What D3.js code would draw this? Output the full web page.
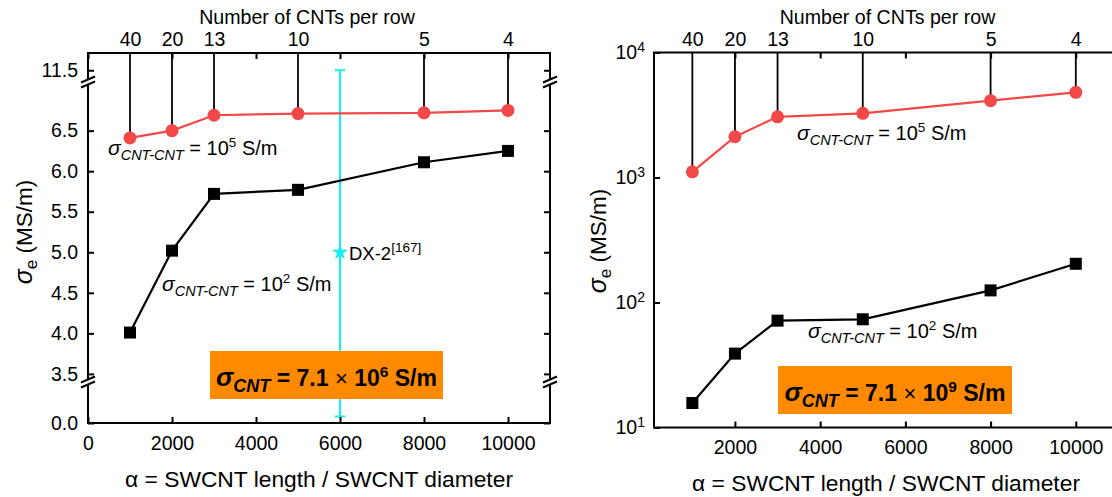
<!DOCTYPE html>
<html>
<head>
<meta charset="utf-8">
<script src="https://cdn.jsdelivr.net/npm/d3@7"></script>
<style>
  html, body { margin: 0; padding: 0; background: #fff; }
  svg text { white-space: pre; }
</style>
</head>
<body>
<svg id="chart" width="1112" height="497"></svg>
<script>
// Aspect ratio alpha = SWCNT length / SWCNT diameter (one entry per simulated case)
const alpha = [1000, 2000, 3000, 5000, 8000, 10000];
// Matching number of CNTs per row (top axis)
const cntsPerRow = ["40", "20", "13", "10", "5", "4"];

// Panel A: sigma_CNT = 7.1e6 S/m, sigma_e in MS/m
const panelA_contact1e5 = [6.41, 6.50, 6.69, 6.71, 6.72, 6.75];
const panelA_contact1e2 = [4.01, 5.02, 5.72, 5.77, 6.11, 6.25];
const panelA_yTicks = [0.0, 3.5, 4.0, 4.5, 5.0, 5.5, 6.0, 6.5, 11.5];
const panelA_xTicks = [0, 2000, 4000, 6000, 8000, 10000];
// DX-2 reference measurement: alpha, value, error range
const dx2Alpha = [6000];
const dx2Value = [5.0];
const dx2Range = [0.08, 11.5];

// Panel B: sigma_CNT = 7.1e9 S/m, sigma_e in MS/m (log axis)
const panelB_contact1e5 = [1110, 2120, 3060, 3260, 4120, 4800];
const panelB_contact1e2 = [15.7, 39, 71.6, 73.4, 125, 204];
const panelB_yTicks = [10, 100, 1000, 10000];
const panelB_xTicks = [2000, 4000, 6000, 8000, 10000];

const FONT = "Arial, 'Liberation Sans', sans-serif";
const RED = "#F24848";
const ORANGE = "#FF8A00";
const CYAN = "#12F0F0";

const svg = d3.select("#chart");

// Writes a text element made of styled runs (subscripts / superscripts via shift)
function richText(parent, x, y, parts, opts = {}) {
  const t = parent.append("text")
    .attr("x", x).attr("y", y)
    .attr("font-family", FONT)
    .attr("text-anchor", opts.anchor || "start")
    .attr("font-weight", opts.bold ? "bold" : "normal")
    .attr("fill", opts.fill || "#000");
  if (opts.transform) t.attr("transform", opts.transform);
  let cur = 0;
  parts.forEach(p => {
    const off = -(p.shift || 0);
    const ts = t.append("tspan")
      .attr("dy", off - cur)
      .attr("font-size", p.size)
      .attr("font-style", p.italic ? "italic" : "normal")
      .text(p.text);
    if (p.weight) ts.attr("font-weight", p.weight);
    cur = off;
  });
  return t;
}

function styleAxis(g, size) {
  g.select(".domain").remove();
  g.selectAll(".tick line").attr("stroke", "#000").attr("stroke-width", 2);
  g.selectAll(".tick text").attr("font-family", FONT).attr("font-size", size).attr("fill", "#000");
}

function breakMark(g, x, y) {
  const b = g.append("g");
  b.append("polygon")
    .attr("points", [[x - 7, y + 0.5], [x + 7, y - 5.5], [x + 7, y - 0.5], [x - 7, y + 5.5]].map(p => p.join(",")).join(" "))
    .attr("fill", "#fff");
  [-2.5, 2.5].forEach(k => {
    b.append("line")
      .attr("x1", x - 7).attr("y1", y + k + 3)
      .attr("x2", x + 7).attr("y2", y + k - 3)
      .attr("stroke", "#000").attr("stroke-width", 2);
  });
}

function sigmaLabel(g, x, y, exp) {
  richText(g, x, y, [
    { text: "σ", size: 21, italic: true },
    { text: "CNT-CNT", size: 14.5, italic: true, shift: -5 },
    { text: " = 10", size: 20 },
    { text: exp, size: 13.5, shift: 8 },
    { text: " S/m", size: 20 }
  ]);
}

function orangeBox(g, x0, y0, w, h, exp) {
  g.append("rect").attr("x", x0).attr("y", y0).attr("width", w).attr("height", h).attr("fill", ORANGE);
  richText(g, x0 + w / 2, y0 + 34.5, [
    { text: "σ", size: 26, italic: true },
    { text: "CNT", size: 18, italic: true, shift: -6 },
    { text: " = 7.1 ", size: 23 },
    { text: "×", size: 22, weight: "normal" },
    { text: " 10", size: 23 },
    { text: exp, size: 15.5, shift: 9 },
    { text: " S/m", size: 23 }
  ], { anchor: "middle", bold: true });
}

function yTitle(g, x, y) {
  richText(g, x, y, [
    { text: "σ", size: 25, italic: true },
    { text: "e", size: 17, shift: -5 },
    { text: " (MS/m)", size: 22.5 }
  ], { anchor: "middle", transform: `rotate(-90,${x},${y})` });
}

function topTitle(g, x) {
  g.append("text").attr("x", x).attr("y", 24).attr("text-anchor", "middle")
    .attr("font-family", FONT).attr("font-size", 19.6).text("Number of CNTs per row");
}

function bottomTitle(g, x, y) {
  richText(g, x, y, [
    { text: "α = SWCNT length / SWCNT diameter", size: 22.8 }
  ], { anchor: "middle" });
}

function series(g, x, y, values, color, kind) {
  const line = d3.line().x((d, i) => x(alpha[i])).y(d => y(d));
  g.append("path").datum(values).attr("d", line)
    .attr("fill", "none").attr("stroke", color).attr("stroke-width", 2.2);
  if (kind === "circle") {
    g.selectAll(null).data(values).enter().append("circle")
      .attr("cx", (d, i) => x(alpha[i])).attr("cy", d => y(d)).attr("r", 6.5).attr("fill", color);
  } else {
    g.selectAll(null).data(values).enter().append("rect")
      .attr("x", (d, i) => x(alpha[i]) - 6).attr("y", d => y(d) - 6)
      .attr("width", 12).attr("height", 12).attr("fill", color);
  }
}

function dropLines(g, x, y, values, top) {
  g.selectAll(null).data(values).enter().append("line")
    .attr("x1", (d, i) => x(alpha[i])).attr("x2", (d, i) => x(alpha[i]))
    .attr("y1", top).attr("y2", d => y(d))
    .attr("stroke", "#000").attr("stroke-width", 1.8);
}

function topAxes(g, x, ticks, top) {
  const ta = g.append("g").attr("transform", `translate(0,${top})`)
    .call(d3.axisTop(x).tickValues(ticks).tickSizeInner(-6).tickSizeOuter(0).tickFormat(""));
  styleAxis(ta, 19.5);
  const tl = g.append("g").attr("transform", `translate(0,${top})`)
    .call(d3.axisTop(x).tickValues(alpha).tickSize(0).tickPadding(7).tickFormat((d, i) => cntsPerRow[i]));
  styleAxis(tl, 19.5);
}

// ---------------- Panel A (broken linear axis) ----------------
{
  const L = 88, R = 550, T = 53, B = 423;
  const g = svg.append("g");
  const x = d3.scaleLinear().domain([0, 11000]).range([L, R]);
  // Piecewise scale with two axis breaks (0.5–3.4 and 7.1–11.35)
  const y = d3.scaleLinear()
    .domain([0, 0.5, 3.4, 7.1, 11.35, 11.72])
    .range([B, 382, 382, 82, 82, T]);

  // DX-2 error bar and point
  const ex = x(dx2Alpha[0]);
  g.append("line").attr("x1", ex).attr("x2", ex).attr("y1", y(dx2Range[0])).attr("y2", y(dx2Range[1]))
    .attr("stroke", CYAN).attr("stroke-width", 2);
  dx2Range.forEach(v => {
    g.append("line").attr("x1", ex - 5).attr("x2", ex + 5).attr("y1", y(v)).attr("y2", y(v))
      .attr("stroke", CYAN).attr("stroke-width", 2);
  });

  orangeBox(g, 210, 351, 233, 48, "6");

  dropLines(g, x, y, panelA_contact1e5, T);
  series(g, x, y, panelA_contact1e2, "#000", "square");
  series(g, x, y, panelA_contact1e5, RED, "circle");

  g.append("path").attr("d", d3.symbol().type(d3.symbolStar).size(80)())
    .attr("transform", `translate(${ex},${y(dx2Value[0])})`).attr("fill", CYAN);
  richText(g, ex + 9, y(dx2Value[0]) + 8, [
    { text: "DX-2", size: 18.5 },
    { text: "[167]", size: 13.5, shift: 8 }
  ]);

  // Frame and axes
  g.append("rect").attr("x", L).attr("y", T).attr("width", R - L).attr("height", B - T)
    .attr("fill", "none").attr("stroke", "#000").attr("stroke-width", 2);

  const xa = g.append("g").attr("transform", `translate(0,${B})`)
    .call(d3.axisBottom(x).tickValues(panelA_xTicks).tickSizeInner(-6).tickSizeOuter(0).tickPadding(13).tickFormat(d3.format("d")));
  styleAxis(xa, 19.5);
  topAxes(g, x, panelA_xTicks, T);

  const ya = g.append("g").attr("transform", `translate(${L},0)`)
    .call(d3.axisLeft(y).tickValues(panelA_yTicks).tickSizeInner(-6).tickSizeOuter(0).tickPadding(10).tickFormat(d3.format(".1f")));
  styleAxis(ya, 19.5);
  const yr = g.append("g").attr("transform", `translate(${R},0)`)
    .call(d3.axisRight(y).tickValues(panelA_yTicks).tickSizeInner(-6).tickSizeOuter(0).tickFormat(""));
  styleAxis(yr, 19.5);

  [82, 382].forEach(by => { breakMark(g, L, by); breakMark(g, R, by); });

  sigmaLabel(g, 108, 155, "5");
  sigmaLabel(g, 162, 291, "2");

  topTitle(g, 307);
  bottomTitle(g, 319, 487);
  yTitle(g, 32, 232);
}

// ---------------- Panel B (log axis) ----------------
{
  const L = 654, R = 1118.4, T = 52.5, B = 427.5;
  const g = svg.append("g");
  const x = d3.scaleLinear().domain([100, 11000]).range([L, R]);
  const y = d3.scaleLog().domain([10, 10000]).range([B, T]);

  orangeBox(g, 778, 366, 234, 48, "9");

  dropLines(g, x, y, panelB_contact1e5, T);
  series(g, x, y, panelB_contact1e2, "#000", "square");
  series(g, x, y, panelB_contact1e5, RED, "circle");

  g.append("rect").attr("x", L).attr("y", T).attr("width", R - L).attr("height", B - T)
    .attr("fill", "none").attr("stroke", "#000").attr("stroke-width", 2);

  const xa = g.append("g").attr("transform", `translate(0,${B})`)
    .call(d3.axisBottom(x).tickValues(panelB_xTicks).tickSizeInner(-6).tickSizeOuter(0).tickPadding(13).tickFormat(d3.format("d")));
  styleAxis(xa, 19.5);
  topAxes(g, x, panelB_xTicks, T);

  const ya = g.append("g").attr("transform", `translate(${L},0)`)
    .call(d3.axisLeft(y).tickValues(panelB_yTicks).tickSizeInner(-6).tickSizeOuter(0).tickPadding(9));
  styleAxis(ya, 19.5);
  ya.selectAll(".tick text").each(function (d) {
    const s = d3.select(this);
    s.text("");
    s.append("tspan").text("10");
    s.append("tspan").attr("dy", "-0.5em").attr("font-size", 14).text(Math.round(Math.log10(d)));
  });
  const yr = g.append("g").attr("transform", `translate(${R},0)`)
    .call(d3.axisRight(y).tickValues(panelB_yTicks).tickSizeInner(-6).tickSizeOuter(0).tickFormat(""));
  styleAxis(yr, 19.5);

  sigmaLabel(g, 797, 140, "5");
  sigmaLabel(g, 808, 338, "2");

  topTitle(g, 887.5);
  bottomTitle(g, 886, 491);
  yTitle(g, 606, 241);
}
</script>
</body>
</html>
